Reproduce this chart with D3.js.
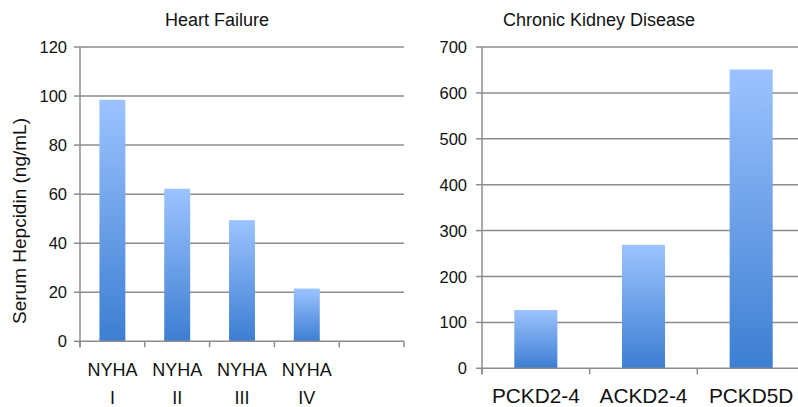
<!DOCTYPE html>
<html>
<head>
<meta charset="utf-8">
<script src="https://cdn.jsdelivr.net/npm/d3@7"></script>
<style>
  body { margin: 0; background: #fff; }
  svg text { font-family: "Liberation Sans", Arial, Helvetica, sans-serif; fill: #111; }
</style>
</head>
<body>
<svg id="chart" width="798" height="407"></svg>
<script>
let hfGroups = ["NYHA I", "NYHA II", "NYHA III", "NYHA IV", ""],
  hfValues = [98.5, 62.2, 49.4, 21.5],
  hfTicks = [0, 20, 40, 60, 80, 100, 120]

let ckdGroups = ["PCKD2-4", "ACKD2-4", "PCKD5D"],
  ckdValues = [127, 269, 651],
  ckdTicks = [0, 100, 200, 300, 400, 500, 600, 700]

let svg = d3.select("#chart")

let grad = svg.append("defs").append("linearGradient")
  .attr("id", "barfill")
  .attr("x1", 0).attr("y1", 0).attr("x2", 0).attr("y2", 1)
grad.append("stop").attr("offset", "0%").attr("stop-color", "#9cc3ff")
grad.append("stop").attr("offset", "100%").attr("stop-color", "#3c7ed2")

function gray(sel) {
  return sel.attr("stroke", "#8c8c8c").attr("stroke-width", 1.5)
}

function panel(opts) {
  let g = svg.append("g")
  let x = d3.scaleBand().domain(opts.groups).range(opts.xRange)
  let y = d3.scaleLinear().domain([0, d3.max(opts.ticks)]).range(opts.yRange)

  // gridlines
  g.selectAll("line.grid")
    .data(opts.ticks.filter(d => d > 0)).enter()
    .append("line")
    .attr("class", "grid")
    .attr("x1", opts.xRange[0]).attr("x2", opts.gridEnd)
    .attr("y1", d => y(d)).attr("y2", d => y(d))
    .call(gray)

  // bars
  let bw = x.bandwidth() * 0.4
  g.selectAll("rect")
    .data(opts.values).enter()
    .append("rect")
    .attr("x", (d, i) => x(opts.groups[i]) + x.bandwidth() / 2 - bw / 2)
    .attr("width", bw)
    .attr("y", d => y(d))
    .attr("height", d => y(0) - y(d))
    .attr("fill", "url(#barfill)")

  // x axis
  let xAxis = g.append("g")
    .attr("transform", `translate(0, ${y(0)})`)
  xAxis.append("line")
    .attr("x1", opts.xRange[0]).attr("x2", opts.gridEnd)
    .call(gray)
  let edges = opts.groups.map(d => x(d)).concat([opts.xRange[1]])
  xAxis.selectAll("line.tick")
    .data(edges).enter()
    .append("line")
    .attr("class", "tick")
    .attr("x1", d => d).attr("x2", d => d).attr("y2", 6)
    .call(gray)
  opts.groups.forEach(gname => {
    let parts = opts.splitLabels ? gname.split(" ") : [gname]
    parts.forEach((p, j) => {
      xAxis.append("text")
        .attr("x", x(gname) + x.bandwidth() / 2)
        .attr("y", opts.labelY[j])
        .attr("text-anchor", "middle")
        .style("font-size", opts.labelSize + "px")
        .text(p)
    })
  })

  // y axis
  g.append("line")
    .attr("x1", opts.xRange[0]).attr("x2", opts.xRange[0])
    .attr("y1", y(d3.max(opts.ticks))).attr("y2", y(0) + 6)
    .call(gray)
  opts.ticks.forEach(t => {
    g.append("line")
      .attr("x1", opts.xRange[0] - 6).attr("x2", opts.xRange[0])
      .attr("y1", y(t)).attr("y2", y(t))
      .call(gray)
    g.append("text")
      .attr("x", opts.xRange[0] - opts.tickGap)
      .attr("y", y(t) + 6)
      .attr("text-anchor", "end")
      .style("font-size", "16.5px")
      .text(t)
  })

  g.append("text")
    .attr("x", opts.titleX).attr("y", 26)
    .attr("text-anchor", "middle")
    .style("font-size", "18px")
    .text(opts.title)
}

panel({
  groups: hfGroups, values: hfValues, ticks: hfTicks,
  xRange: [80, 404], gridEnd: 404, yRange: [341.3, 47],
  splitLabels: true, labelY: [35, 63], labelSize: 18, tickGap: 13,
  title: "Heart Failure", titleX: 217
})

panel({
  groups: ckdGroups, values: ckdValues, ticks: ckdTicks,
  xRange: [482, 805], gridEnd: 798, yRange: [368.3, 47],
  splitLabels: false, labelY: [35], labelSize: 20.8, tickGap: 15,
  title: "Chronic Kidney Disease", titleX: 599
})

svg.append("text")
  .attr("transform", "translate(26, 221) rotate(-90)")
  .attr("text-anchor", "middle")
  .style("font-size", "19px")
  .text("Serum Hepcidin (ng/mL)")
</script>
</body>
</html>
